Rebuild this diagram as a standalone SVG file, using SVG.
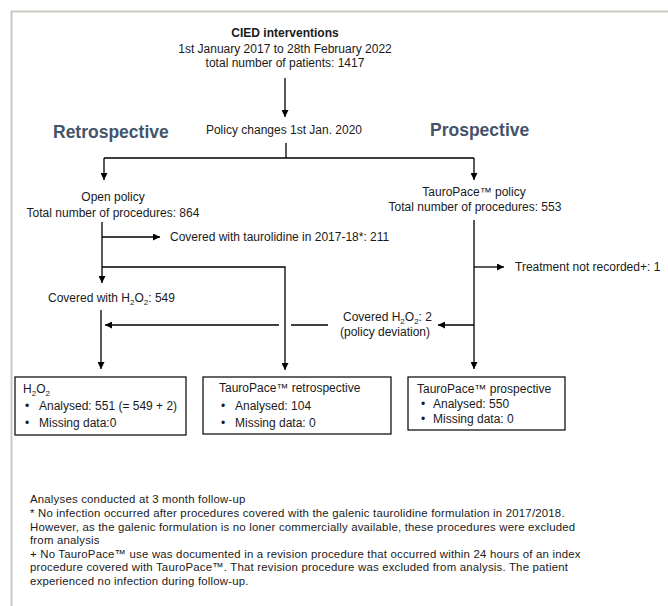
<svg xmlns="http://www.w3.org/2000/svg" width="668" height="606" viewBox="0 0 668 606">
<defs>
<marker id="ah" viewBox="0 0 10 10" refX="10" refY="5" markerWidth="7" markerHeight="7" markerUnits="userSpaceOnUse" orient="auto">
<path d="M0,0 L10,5 L0,10 z" fill="#000"/>
</marker>
<style>
text{font-family:"Liberation Sans",Arial,sans-serif;font-size:12px;fill:#1a1a1a}
.b{font-weight:bold}
.h{font-family:"Liberation Sans",Arial,sans-serif;font-size:17.5px;font-weight:bold;fill:#44546a}
.m{text-anchor:middle}
.f{font-size:11.4px;letter-spacing:0.2px}
.c{fill:none;stroke:#000;stroke-width:1.3}
.a{marker-end:url(#ah)}
.box{fill:#fff;stroke:#000;stroke-width:1.2}
.sub{font-size:8px}
</style>
</defs>
<rect width="668" height="606" fill="#fff"/>
<path d="M11.5,606 V11.5 H668" fill="none" stroke="#c8c8c0" stroke-width="2"/>

<g id="cied">
<text class="b m" x="285" y="37">CIED interventions</text>
<text class="m" x="285" y="53">1st January 2017 to 28th February 2022</text>
<text class="m" x="285" y="67">total number of patients: 1417</text>
</g>
<g id="retro-label"><text class="h" x="53" y="138">Retrospective</text></g>
<g id="policy"><text class="m" x="284" y="134">Policy changes 1st Jan. 2020</text></g>
<g id="pro-label"><text class="h" x="430" y="136">Prospective</text></g>

<g id="open">
<text class="m" x="113" y="201">Open policy</text>
<text class="m" x="113" y="217">Total number of procedures: 864</text>
</g>
<g id="tauro-policy">
<text class="m" x="474" y="196">TauroPace™ policy</text>
<text class="m" x="475" y="211">Total number of procedures: 553</text>
</g>
<g id="taurolidine"><text x="170" y="241">Covered with taurolidine in 2017-18*: 211</text></g>
<g id="not-recorded"><text x="515" y="271">Treatment not recorded+: 1</text></g>
<g id="h2o2-549"><text x="48" y="302">Covered with H<tspan class="sub" dy="3">2</tspan><tspan dy="-3">O</tspan><tspan class="sub" dy="3">2</tspan><tspan dy="-3">: 549</tspan></text></g>
<g id="deviation">
<text x="343" y="321">Covered H<tspan class="sub" dy="3">2</tspan><tspan dy="-3">O</tspan><tspan class="sub" dy="3">2</tspan><tspan dy="-3">: 2</tspan></text>
<text x="340" y="336">(policy deviation)</text>
</g>

<g id="box-h2o2">
<rect class="box" x="15" y="377" width="171" height="58"/>
<text x="23" y="393">H<tspan class="sub" dy="3">2</tspan><tspan dy="-3">O</tspan><tspan class="sub" dy="3">2</tspan></text>
<text x="25" y="410">•</text><text x="39" y="410">Analysed: 551 (= 549 + 2)</text>
<text x="25" y="427">•</text><text x="39" y="427">Missing data:0</text>
</g>
<g id="box-retro">
<rect class="box" x="203" y="377" width="188" height="57"/>
<text x="219" y="392">TauroPace™ retrospective</text>
<text x="221" y="410">•</text><text x="235" y="410">Analysed: 104</text>
<text x="221" y="427">•</text><text x="235" y="427">Missing data: 0</text>
</g>
<g id="box-pro">
<rect class="box" x="408" y="377" width="157" height="53"/>
<text x="417" y="393">TauroPace™ prospective</text>
<text x="421" y="408">•</text><text x="433" y="408">Analysed: 550</text>
<text x="421" y="423">•</text><text x="433" y="423">Missing data: 0</text>
</g>

<g id="connectors">
<path class="c a" d="M285,78 V117"/>
<path class="c" d="M286,143 V158 M104,158 H474"/>
<path class="c a" d="M104,158 V180"/>
<path class="c a" d="M474,158 V180"/>
<path class="c a" d="M102,222 V283"/>
<path class="c a" d="M102,237 H160"/>
<path class="c a" d="M102,267 H285 V370"/>
<path class="c a" d="M101,310 V369"/>
<path class="c a" d="M474,220 V369"/>
<path class="c a" d="M474,267 H504"/>
<path class="c a" d="M474,325 H438"/>
<path class="c" d="M328,325 H291" stroke="#444"/>
<path class="c a" d="M279,325 H105" stroke="#444"/>
</g>

<g id="footnote">
<text class="f" x="30" y="503">Analyses conducted at 3 month follow-up</text>
<text class="f" x="30" y="517">* No infection occurred after procedures covered with the galenic taurolidine formulation in 2017/2018.</text>
<text class="f" x="30" y="531">However, as the galenic formulation is no loner commercially available, these procedures were excluded</text>
<text class="f" x="30" y="544">from analysis</text>
<text class="f" x="30" y="558">+ No TauroPace™ use was documented in a revision procedure that occurred within 24 hours of an index</text>
<text class="f" x="30" y="571">procedure covered with TauroPace™. That revision procedure was excluded from analysis. The patient</text>
<text class="f" x="30" y="585">experienced no infection during follow-up.</text>
</g>
</svg>
